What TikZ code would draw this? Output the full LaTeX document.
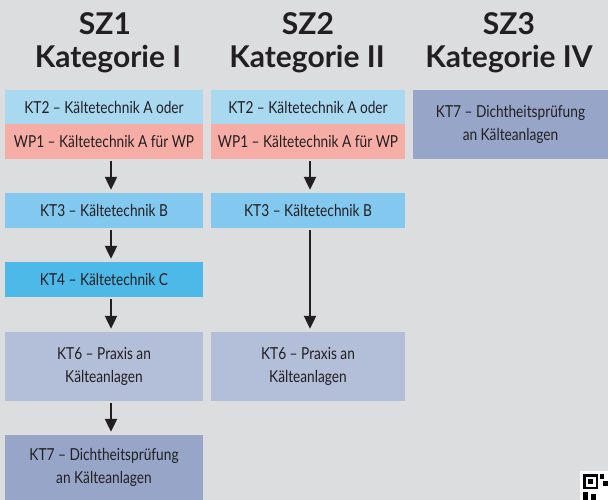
\documentclass[tikz,border=0pt]{standalone}
\usepackage{fontspec}
\usetikzlibrary{arrows.meta}
\newfontfamily\titlefont{Lato}
\newfontfamily\boxfont[FakeStretch=0.83]{Lato}
\definecolor{bg}{HTML}{DCDDDF}
\definecolor{txt}{HTML}{231F20}
\definecolor{ckta}{HTML}{A9D8F1}
\definecolor{cwp}{HTML}{F6ADA6}
\definecolor{cktb}{HTML}{83C8EE}
\definecolor{cktc}{HTML}{4DB9E8}
\definecolor{cktp}{HTML}{B3BED8}
\definecolor{cktd}{HTML}{97A6C8}
\tikzset{
  title/.style={anchor=base, text=txt, font=\titlefont\bfseries\fontsize{30}{30}\selectfont, inner sep=0pt},
  box/.style={rectangle, inner sep=0pt, text=txt, align=center, font=\boxfont\fontsize{16.5}{22.5}\selectfont},
  wc1/.style={minimum width=198pt},
  wc2/.style={minimum width=194pt},
  wc3/.style={minimum width=195pt},
  arr/.style={line width=2.2pt, draw=txt, -{Triangle[width=12pt,length=13pt]}, shorten <=2pt, shorten >=3pt}
}
\begin{document}
\begin{tikzpicture}[x=1pt,y=-1pt]
\fill[bg] (0,0) rectangle (608,500);
\useasboundingbox (0,0) rectangle (608,500);
% titles
\node[title] (sz1) at (105,35) {SZ1};
\node[title] (k1) at (108,68) {Kategorie I};
\node[title] (sz2) at (308,35) {SZ2};
\node[title] (k2) at (307,68) {Kategorie II};
\node[title] (sz3) at (509,35) {SZ3};
\node[title] (k3) at (509,68) {Kategorie IV};
% column 1
\node[box, wc1, fill=ckta, minimum height=34pt] (a1) at (104,107) {KT2 – Kältetechnik A oder};
\node[box, wc1, fill=cwp, minimum height=35pt] (b1) at (104,141.5) {WP1 – Kältetechnik A für WP};
\node[box, wc1, fill=cktb, minimum height=35pt] (c1) at (104,210.5) {KT3 – Kältetechnik B};
\node[box, wc1, fill=cktc, minimum height=35pt] (d1) at (104,279.5) {KT4 – Kältetechnik C};
\node[box, wc1, fill=cktp, minimum height=69pt] (e1) at (104,366.5) {KT6 – Praxis an\\Kälteanlagen};
\node[box, wc1, fill=cktd, minimum height=65pt] (f1) at (104,467.5) {KT7 – Dichtheitsprüfung\\an Kälteanlagen};
% column 2
\node[box, wc2, fill=ckta, minimum height=34pt] (a2) at (308,107) {KT2 – Kältetechnik A oder};
\node[box, wc2, fill=cwp, minimum height=35pt] (b2) at (308,141.5) {WP1 – Kältetechnik A für WP};
\node[box, wc2, fill=cktb, minimum height=35pt] (c2) at (308,210.5) {KT3 – Kältetechnik B};
\node[box, wc2, fill=cktp, minimum height=69pt] (e2) at (308,366.5) {KT6 – Praxis an\\Kälteanlagen};
% column 3
\node[box, wc3, fill=cktd, minimum height=69pt] (a3) at (510.5,124.5) {KT7 – Dichtheitsprüfung\\an Kälteanlagen};
% arrows
\draw[arr] ([xshift=7pt]b1.south) -- ([xshift=7pt]c1.north);
\draw[arr] ([xshift=7pt]c1.south) -- ([xshift=7pt]d1.north);
\draw[arr] ([xshift=7pt]d1.south) -- ([xshift=7pt]e1.north);
\draw[arr] ([xshift=7pt]e1.south) -- ([xshift=7pt]f1.north);
\draw[arr] ([xshift=2pt]b2.south) -- ([xshift=2pt]c2.north);
\draw[arr] ([xshift=2pt]c2.south) -- ([xshift=2pt]e2.north);
% partial QR code
\fill[white] (580,471) rectangle (608,500);
\fill[black] (583,474) rectangle (598,489);
\fill[white] (585.5,476.5) rectangle (595.5,486.5);
\fill[black] (588,479) rectangle (593,484);
\fill[black] (600,474) rectangle (604,479);
\fill[black] (603,481) rectangle (608,486);
\fill[black] (583,492) rectangle (588,500);
\fill[black] (591,494) rectangle (596,500);
\end{tikzpicture}
\end{document}
